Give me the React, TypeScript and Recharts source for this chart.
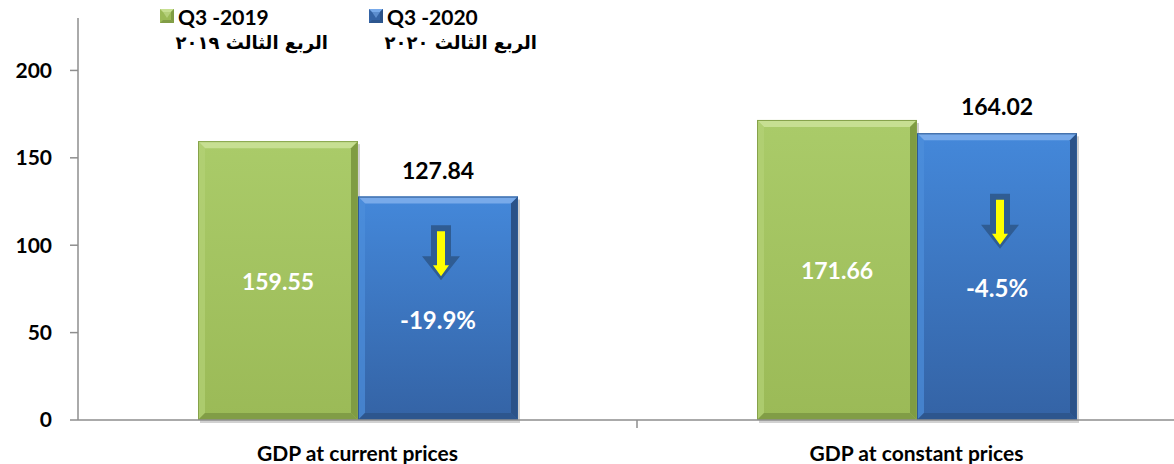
import { BarChart, Bar, XAxis, YAxis, LabelList } from 'recharts';

const categories = ['GDP at current prices', 'GDP at constant prices'];
const q3_2019 = [159.55, 171.66];
const q3_2020 = [127.84, 164.02];
const changeLabels = ['-19.9%', '-4.5%'];
const yTicks = [0, 50, 100, 150, 200];

const legendItems = [
  { en: 'Q3 -2019', ar: 'الربع الثالث ٢٠١٩', color: 'green' },
  { en: 'Q3 -2020', ar: 'الربع الثالث ٢٠٢٠', color: 'blue' },
];

const data = categories.map((name, i) => ({
  name,
  y2019: q3_2019[i],
  y2020: q3_2020[i],
  change: changeLabels[i],
}));

const FONT = 'Lato, "Open Sans", sans-serif';

const palettes: Record<string, any> = {
  green: {
    top: '#aacb69',
    bottom: '#9bba57',
    bevelTop: '#c7df92',
    bevelLeft: '#b3d176',
    bevelRight: '#7f9c43',
    bevelBottom: '#819d46',
    outline: '#86a24a',
  },
  blue: {
    top: '#4488da',
    bottom: '#3463a5',
    bevelTop: '#78aaea',
    bevelLeft: '#4d8edb',
    bevelRight: '#2b5288',
    bevelBottom: '#2d568e',
    outline: '#2e5a93',
  },
};

function bevelShape(name: string) {
  const p = palettes[name];
  return (props: any) => {
    const { x, y, width: w, height: h } = props;
    if (!w || !h) return <g />;
    const b = 7;
    return (
      <g>
        <rect x={x + 2} y={y + 3} width={w} height={h} fill="rgba(0,0,0,0.18)" />
        <rect x={x} y={y} width={w} height={h} fill={`url(#grad-${name})`} />
        <polygon points={`${x},${y} ${x + w},${y} ${x + w - b},${y + b} ${x + b},${y + b}`} fill={p.bevelTop} />
        <polygon points={`${x},${y} ${x + b},${y + b} ${x + b},${y + h - b} ${x},${y + h}`} fill={p.bevelLeft} opacity={0.7} />
        <polygon points={`${x + w},${y} ${x + w},${y + h} ${x + w - b},${y + h - b} ${x + w - b},${y + b}`} fill={p.bevelRight} />
        <polygon points={`${x},${y + h} ${x + b},${y + h - b} ${x + w - b},${y + h - b} ${x + w},${y + h}`} fill={p.bevelBottom} />
        <rect x={x + 0.5} y={y + 0.5} width={w - 1} height={h - 1} fill="none" stroke={p.outline} strokeWidth={1} />
      </g>
    );
  };
}

const InsideLabel = (props: any) => {
  const { x, y, width, height, value } = props;
  return (
    <text
      x={x + width / 2}
      y={y + height / 2}
      textAnchor="middle"
      dominantBaseline="central"
      fill="#ffffff"
      fontFamily={FONT}
      fontWeight={700}
      fontSize={23}
    >
      {value}
    </text>
  );
};

const TopLabel = (props: any) => {
  const { x, y, width, value } = props;
  return (
    <text
      x={x + width / 2}
      y={y - 27}
      textAnchor="middle"
      dominantBaseline="central"
      fill="#000000"
      fontFamily={FONT}
      fontWeight={700}
      fontSize={23}
    >
      {value}
    </text>
  );
};

const ChangeLabel = (props: any) => {
  const { x, y, width, height, value } = props;
  const cx = x + width / 2;
  const ty = y + height / 2 + 11;
  const ax = cx + 3;
  const ay = ty - 94;
  const outer = `${ax - 10},${ay} ${ax + 10},${ay} ${ax + 10},${ay + 31} ${ax + 19},${ay + 31} ${ax},${ay + 55} ${ax - 19},${ay + 31} ${ax - 10},${ay + 31}`;
  const inner = `${ax - 4},${ay + 6} ${ax + 4},${ay + 6} ${ax + 4},${ay + 40} ${ax + 8},${ay + 40} ${ax},${ay + 51} ${ax - 8},${ay + 40} ${ax - 4},${ay + 40}`;
  return (
    <g>
      <polygon points={outer} fill="#2f5c93" />
      <polygon points={inner} fill="#ffff00" />
      <text
        x={cx}
        y={ty}
        textAnchor="middle"
        dominantBaseline="central"
        fill="#ffffff"
        fontFamily={FONT}
        fontWeight={700}
        fontSize={24}
      >
        {value}
      </text>
    </g>
  );
};

const CategoryTick = (props: any) => {
  const { x, y, payload, index } = props;
  const half = payload && payload.offset ? payload.offset : 279.5;
  return (
    <g>
      {index === 0 && (
        <line x1={x + half} y1={y - 8} x2={x + half} y2={y} stroke="#8e8e8e" strokeWidth={1.5} />
      )}
      <text
        x={x}
        y={y + 24}
        textAnchor="middle"
        dominantBaseline="central"
        fill="#000000"
        fontFamily={FONT}
        fontWeight={700}
        fontSize={21}
      >
        {payload.value}
      </text>
    </g>
  );
};

function LegendSwatch({ color }: { color: string }) {
  const p = palettes[color];
  return (
    <svg width={14} height={14} style={{ display: 'block' }}>
      <rect x={0} y={0} width={14} height={14} fill={p.bottom} />
      <polygon points="0,0 14,0 11,3 3,3" fill={p.bevelTop} />
      <polygon points="14,0 14,14 11,11 11,3" fill={p.bevelRight} />
      <polygon points="0,14 3,11 11,11 14,14" fill={p.bevelBottom} />
      <polygon points="3,3 11,3 7,9" fill={p.bevelTop} opacity={0.6} />
    </svg>
  );
}

export default function App() {
  const legendLeft = [160, 369];
  const arabicRight = [328, 537];
  return (
    <div
      style={{
        position: 'fixed',
        left: 0,
        top: 0,
        width: 1174,
        height: 464,
        overflow: 'hidden',
        background: '#ffffff',
      }}
    >
      <BarChart
        width={1200}
        height={464}
        data={data}
        margin={{ top: 18, right: 4, bottom: 0, left: 0 }}
        barGap={0}
      >
        <defs>
          <linearGradient id="grad-green" x1="0" y1="0" x2="0" y2="1">
            <stop offset="0%" stopColor={palettes.green.top} />
            <stop offset="100%" stopColor={palettes.green.bottom} />
          </linearGradient>
          <linearGradient id="grad-blue" x1="0" y1="0" x2="0" y2="1">
            <stop offset="0%" stopColor={palettes.blue.top} />
            <stop offset="100%" stopColor={palettes.blue.bottom} />
          </linearGradient>
        </defs>
        <XAxis
          dataKey="name"
          tickLine={false}
          axisLine={{ stroke: '#8e8e8e', strokeWidth: 1.5 }}
          tick={<CategoryTick />}
          height={44}
          interval={0}
        />
        <YAxis
          domain={[0, 230]}
          ticks={yTicks}
          width={78}
          axisLine={{ stroke: '#8e8e8e', strokeWidth: 1.5 }}
          tickLine={{ stroke: '#8e8e8e', strokeWidth: 1.5 }}
          tickSize={8}
          tickMargin={18}
          tick={{ fill: '#000000', fontFamily: FONT, fontWeight: 700, fontSize: 21 }}
        />
        <Bar dataKey="y2019" barSize={160} shape={bevelShape('green')} isAnimationActive={false}>
          <LabelList dataKey="y2019" content={<InsideLabel />} />
        </Bar>
        <Bar dataKey="y2020" barSize={160} shape={bevelShape('blue')} isAnimationActive={false}>
          <LabelList dataKey="y2020" content={<TopLabel />} />
          <LabelList dataKey="change" content={<ChangeLabel />} />
        </Bar>
      </BarChart>
      {legendItems.map((item, i) => (
        <div key={item.en}>
          <div
            style={{
              position: 'absolute',
              left: legendLeft[i],
              top: 3,
              display: 'flex',
              alignItems: 'center',
              gap: 4,
              height: 26,
              fontFamily: FONT,
              fontWeight: 700,
              color: '#000000',
            }}
          >
            <LegendSwatch color={item.color} />
            <span style={{ fontSize: 21 }}>{item.en}</span>
          </div>
          <div
            dir="rtl"
            style={{
              position: 'absolute',
              right: 1174 - arabicRight[i],
              top: 31,
              fontFamily: '"DejaVu Sans", sans-serif',
              fontWeight: 700,
              fontSize: 18,
              lineHeight: '24px',
              color: '#000000',
              whiteSpace: 'nowrap',
            }}
          >
            {item.ar}
          </div>
        </div>
      ))}
    </div>
  );
}
